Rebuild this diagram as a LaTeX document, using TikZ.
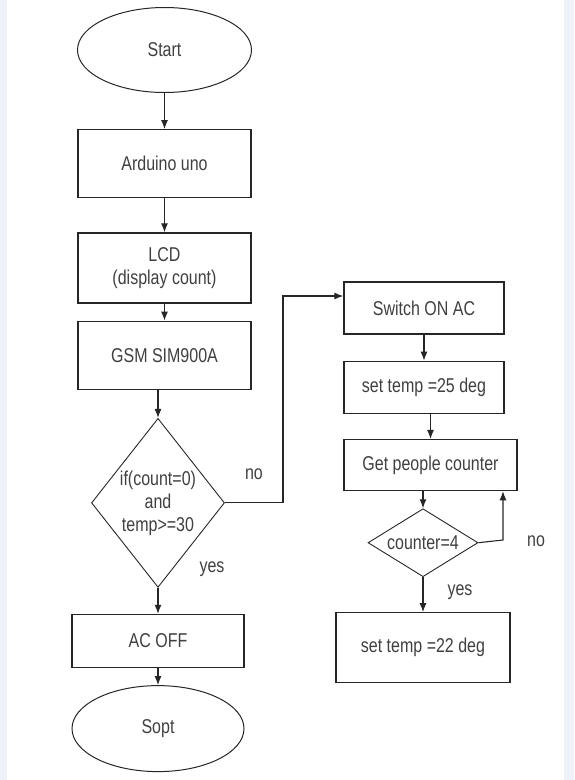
\documentclass[tikz,border=0pt]{standalone}
\usepackage{fontspec}
\setmainfont[FakeStretch=0.8]{Liberation Sans}
\usepackage{tikz}
\usetikzlibrary{shapes.geometric,positioning,arrows.meta}

\definecolor{sidebar}{RGB}{238,241,248}

\begin{document}
\begin{tikzpicture}[
    x=1pt,y=-1pt,
    >={Latex[length=9pt,width=7pt]},
    font=\fontsize{20}{23}\selectfont,
    every node/.style={text=black!75},
    terminal/.style={
      draw=black!85,ellipse,line width=1pt,inner sep=0pt,
      minimum width=174pt,minimum height=85pt
    },
    process/.style={
      draw=black!85,rectangle,line width=1.3pt,align=center,inner sep=0pt,
      minimum width=173pt,minimum height=68pt
    },
    decision/.style={
      draw=black!85,diamond,line width=0.9pt,align=center,inner sep=0pt
    },
    flow/.style={->,line width=1.1pt,black!85}
  ]

  \useasboundingbox (0,0) rectangle (574,780);
  \fill [sidebar] (0,0) rectangle (7,780);
  \fill [sidebar] (564,0) rectangle (574,780);

  % left column
  \node (start) [terminal] at (164.5,50) 						{Start};
  \node (ard) [process,below=36pt of start] 					{Arduino uno};
  \node (lcd) [process,below=34pt of ard,minimum height=70pt] 	{LCD\\(display count)};
  \node (gsm) [process,below=17pt of lcd] 					{GSM SIM900A};
  \node (cond) [decision,below=28pt of gsm,xshift=-6.5pt,
    aspect=0.79,minimum width=133pt,minimum height=169pt] 	{if(count=0)\\and\\temp>=30};
  \node (acoff) [process,below=26pt of cond,minimum width=172pt,minimum height=53pt] {AC OFF};
  \node (stop) [terminal,below=17pt of acoff,minimum width=172pt,minimum height=86pt] {Sopt};

  % right column
  \node (sw) [process,minimum width=160pt,minimum height=52pt] at (424,308) {Switch ON AC};
  \node (s25) [process,below=26pt of sw,minimum width=160pt,minimum height=52pt] {set temp =25 deg};
  \node (gpc) [process,below=25pt of s25,xshift=6.5pt,minimum height=51pt] {Get people counter};
  \node (cnt) [decision,below=17pt of gpc,xshift=-7.5pt,
    aspect=1.62,minimum width=110pt,minimum height=68pt] 	{counter=4};
  \node (s22) [process,below=35pt of cnt,minimum width=174pt,minimum height=70pt] {set temp =22 deg};

  \coordinate (nobend) at (283,296);
  \coordinate (loop) at (503,540);

  % draw edges
  \foreach \a/\b in {start/ard,ard/lcd,lcd/gsm,cond/acoff,acoff/stop,sw/s25,cnt/s22} {
    \draw [flow] (\a) -- (\b);
  }
  \draw [flow] (cond |- gsm.south) -- (cond.north);
  \draw [flow] (gpc |- s25.south) -- (gpc.north);
  \draw [flow] (cnt |- gpc.south) -- (cnt.north);
  \draw [flow] (cond.east) -| (nobend) -- (nobend -| sw.west);
  \draw [flow] (cnt.east) -- (loop) -- (loop |- gpc.south);

  % labels
  \node (no1) at (254,474) 	{no};
  \node (yes1) at (212,569) 	{yes};
  \node (no2) at (536,541) 	{no};
  \node (yes2) at (460,592) 	{yes};
\end{tikzpicture}
\end{document}
